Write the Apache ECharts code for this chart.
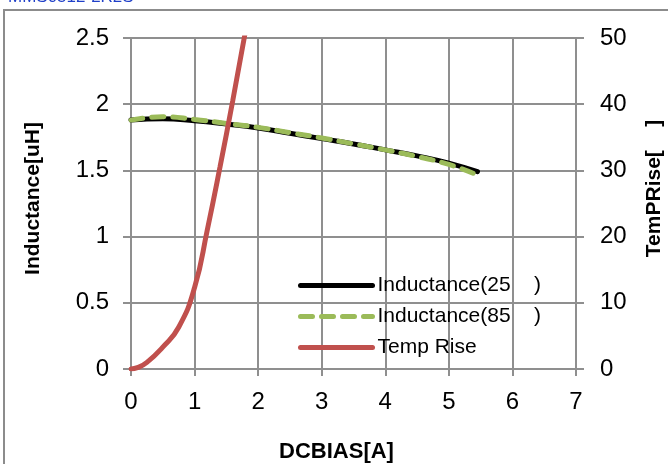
<!DOCTYPE html>
<html>
<head>
<meta charset="utf-8">
<script src="https://cdn.jsdelivr.net/npm/echarts@6/dist/echarts.min.js"></script>
<style>html,body{margin:0;padding:0;background:#fff}#c{width:668px;height:464px}</style>
</head>
<body>
<div id="c"></div>
<script>
const xTicks = [0, 1, 2, 3, 4, 5, 6, 7];
const ind25X = [0, 0.5, 1, 1.5, 2, 2.5, 3, 3.5, 4, 4.5, 5, 5.45];
const ind25 = [1.88, 1.89, 1.875, 1.85, 1.82, 1.78, 1.74, 1.70, 1.655, 1.61, 1.555, 1.49];
const ind85X = [0, 0.5, 1, 1.5, 2, 2.5, 3, 3.5, 4, 4.5, 5, 5.4];
const ind85 = [1.88, 1.905, 1.885, 1.855, 1.825, 1.785, 1.745, 1.70, 1.655, 1.605, 1.545, 1.475];
const tempX = [0, 0.1, 0.25, 0.5, 0.75, 1, 1.2, 1.4, 1.6, 1.8];
const temp = [0, 0.2, 1, 3.3, 6.3, 12.3, 21, 30.5, 40.5, 51];
const names = ['Inductance(25    )', 'Inductance(85    )', 'Temp Rise'];

const pair = (xs, ys) => xs.map((x, i) => [x, ys[i]]);
const grid = '#8f8f8f';
const font = 'Liberation Sans, Arial, sans-serif';

const chart = echarts.init(document.getElementById('c'));
chart.setOption({
  animation: false,
  backgroundColor: '#fff',
  grid: { left: 131, right: 92, top: 38, bottom: 95, outerBoundsMode: 'none', containLabel: false },
  graphic: [
    { type: 'rect', shape: { x: 4, y: 10, width: 720, height: 520 }, style: { fill: 'none', stroke: '#8c8c8c', lineWidth: 2 } },
    { type: 'text', x: 8, y: -11, style: { text: 'MMS0512-2R2S', fill: '#1f3fc8', font: '17px Liberation Sans, Arial, sans-serif' } }
  ],
  legend: {
    orient: 'vertical', left: 293, top: 270, itemWidth: 72, itemHeight: 14, itemGap: 10,
    itemStyle: { opacity: 0 },
    lineStyle: { width: 5 },
    textStyle: { fontFamily: font, fontSize: 21, color: '#000' },
    data: names
  },
  xAxis: {
    type: 'value', min: 0, max: 7, interval: 1,
    name: 'DCBIAS[A]', nameLocation: 'middle', nameGap: 72,
    nameTextStyle: { fontFamily: font, fontSize: 22, fontWeight: 'bold', color: '#000', padding: [0, 34, 0, 0] },
    axisLine: { lineStyle: { color: grid, width: 2 } },
    axisTick: { show: true, length: 7, lineStyle: { color: grid, width: 2 } },
    axisLabel: { fontFamily: font, fontSize: 24, color: '#000', margin: 21, formatter: v => xTicks.includes(v) ? String(v) : '' },
    splitLine: { show: true, lineStyle: { color: grid, width: 2 } }
  },
  yAxis: [
    {
      type: 'value', min: 0, max: 2.5, interval: 0.5,
      name: 'Inductance[uH]', nameLocation: 'middle', nameGap: 87,
      nameTextStyle: { fontFamily: font, fontSize: 21, fontWeight: 'bold', color: '#000', padding: [0, 0, 0, 10] },
      axisLine: { show: true, lineStyle: { color: grid, width: 2 } },
      axisTick: { show: true, length: 8, lineStyle: { color: grid, width: 2 } },
      axisLabel: { fontFamily: font, fontSize: 24, color: '#000', margin: 22 },
      splitLine: { show: true, lineStyle: { color: grid, width: 2 } }
    },
    {
      type: 'value', min: 0, max: 50, interval: 10, position: 'right',
      name: 'TemPRise[    ]', nameLocation: 'middle', nameGap: 68,
      nameTextStyle: { fontFamily: font, fontSize: 21, fontWeight: 'bold', color: '#000', padding: [0, 0, 0, 30] },
      axisLine: { show: true, lineStyle: { color: grid, width: 2 } },
      axisTick: { show: true, length: 8, lineStyle: { color: grid, width: 2 } },
      axisLabel: { fontFamily: font, fontSize: 24, color: '#000', margin: 24 },
      splitLine: { show: false }
    }
  ],
  series: [
    { name: names[0], type: 'line', smooth: true, symbol: 'none', data: pair(ind25X, ind25),
      lineStyle: { color: '#000', width: 5, cap: 'round' }, itemStyle: { color: '#000' } },
    { name: names[1], type: 'line', smooth: true, symbol: 'none', data: pair(ind85X, ind85),
      lineStyle: { color: '#9bbb59', width: 5, type: [12, 9], cap: 'round' }, itemStyle: { color: '#9bbb59' } },
    { name: names[2], type: 'line', smooth: true, symbol: 'none', yAxisIndex: 1, data: pair(tempX, temp),
      lineStyle: { color: '#c0504d', width: 5, cap: 'round' }, itemStyle: { color: '#c0504d' } }
  ]
});
</script>
</body>
</html>
